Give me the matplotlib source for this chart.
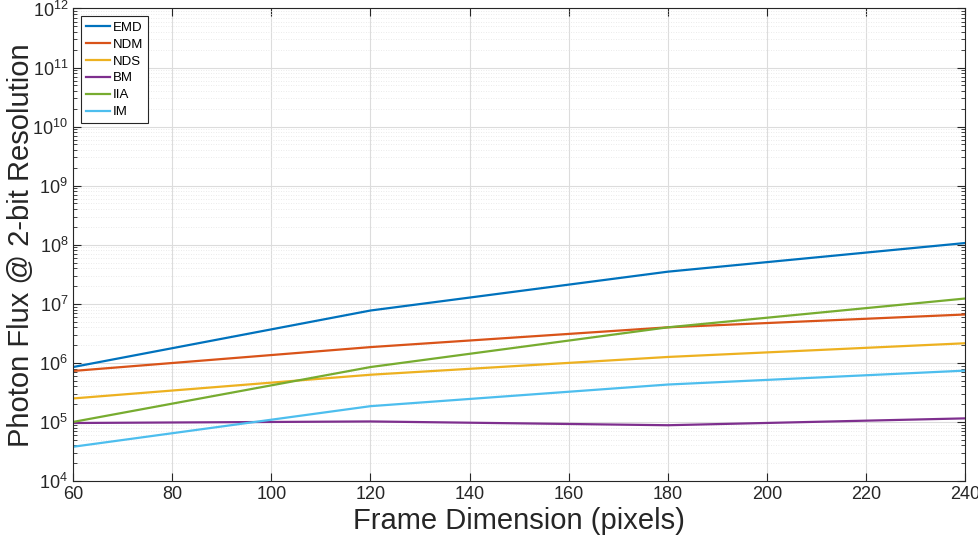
import matplotlib
matplotlib.use("Agg")
import matplotlib.pyplot as plt
from matplotlib.ticker import LogLocator, FixedLocator

plt.rcParams['font.family'] = ['Liberation Sans', 'DejaVu Sans']
plt.rcParams['mathtext.fontset'] = 'custom'
plt.rcParams['mathtext.rm'] = 'Liberation Sans'

frame_dim = [60, 120, 180, 240]
emd = [8.5e5, 7.7e6, 3.5e7, 1.07e8]
ndm = [7.3e5, 1.85e6, 4.0e6, 6.6e6]
nds = [2.5e5, 6.3e5, 1.26e6, 2.15e6]
bm = [9.6e4, 1.02e5, 8.8e4, 1.15e5]
iia = [1.0e5, 8.5e5, 4.0e6, 1.23e7]
im = [3.8e4, 1.85e5, 4.3e5, 7.4e5]

series_names = ["EMD", "NDM", "NDS", "BM", "IIA", "IM"]
series_vals = [emd, ndm, nds, bm, iia, im]
colors = ["#0072BD", "#D95319", "#EDB120", "#7E2F8E", "#77AC30", "#4DBEEE"]

fig = plt.figure(figsize=(9.79, 5.46), dpi=100)
ax = fig.add_axes([0.0746, 0.119, 0.9114, 0.8655])

for name, vals, c in zip(series_names, series_vals, colors):
    ax.plot(frame_dim, vals, color=c, lw=1.6, label=name)

ax.set_yscale('log')
ax.set_xlim(60, 240)
ax.set_ylim(1e4, 1e12)
ax.xaxis.set_major_locator(FixedLocator(list(range(60, 241, 20))))
ax.yaxis.set_major_locator(LogLocator(base=10, numticks=20))
ax.yaxis.set_minor_locator(LogLocator(base=10, subs=range(2, 10), numticks=100))

ax.grid(True, which='major', color='#dcdcdc', lw=0.8)
ax.grid(True, which='minor', axis='y', color='#e4e4e4', lw=0.6, linestyle=(0, (1, 2)))
ax.set_axisbelow(True)

for s in ax.spines.values():
    s.set_color('#262626')
    s.set_linewidth(0.8)
ax.tick_params(which='both', direction='in', top=True, right=True, colors='#262626',
               labelsize=13)
ax.tick_params(which='major', length=6)
ax.tick_params(which='minor', length=3)

ax.set_xlabel('Frame Dimension (pixels)', fontsize=21, color='#262626', labelpad=3)
ax.set_ylabel('Photon Flux @ 2-bit Resolution', fontsize=21, color='#262626', labelpad=-2)

leg = ax.legend(loc='upper left', fontsize=9.5, handlelength=1.8, handletextpad=0.2,
                borderpad=0.4, labelspacing=0.35, fancybox=False, framealpha=1,
                borderaxespad=0.6)
leg.get_frame().set_edgecolor('#262626')
leg.get_frame().set_linewidth(0.8)

fig.savefig('out.png', dpi=100)
